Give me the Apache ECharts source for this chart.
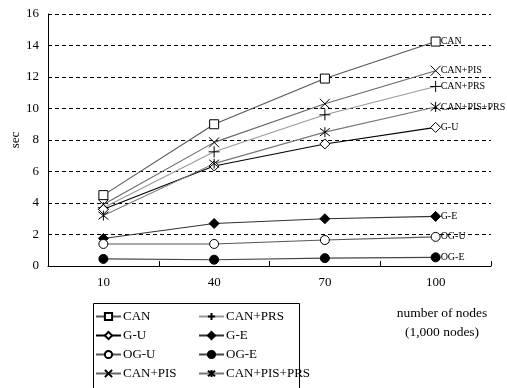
<!DOCTYPE html>
<html><head><meta charset="utf-8">
<script src="https://cdn.jsdelivr.net/npm/echarts@6/dist/echarts.min.js"></script>
<style>html,body{margin:0;padding:0;background:#fff}#c{width:507px;height:388px}</style>
</head><body><div id="c"></div>
<script>
var categories = ['10', '40', '70', '100'];
var yTicks = [0, 2, 4, 6, 8, 10, 12, 14, 16];
var seriesNames = ['CAN', 'CAN+PRS', 'G-U', 'G-E', 'OG-U', 'OG-E', 'CAN+PIS', 'CAN+PIS+PRS'];
var CAN = [4.5, 9.0, 11.9, 14.25];
var CAN_PRS = [3.7, 7.25, 9.6, 11.4];
var G_U = [3.6, 6.35, 7.75, 8.8];
var G_E = [1.75, 2.7, 3.0, 3.15];
var OG_U = [1.4, 1.4, 1.65, 1.85];
var OG_E = [0.45, 0.4, 0.5, 0.55];
var CAN_PIS = [3.9, 7.85, 10.3, 12.4];
var CAN_PIS_PRS = [3.2, 6.5, 8.5, 10.1];
var values = [CAN, CAN_PRS, G_U, G_E, OG_U, OG_E, CAN_PIS, CAN_PIS_PRS];

var FONT = 'Liberation Serif';
var styles = {
  'CAN': {sym: 'rect', size: 9, fill: '#fff', line: '#555'},
  'CAN+PRS': {sym: 'path://M5,0 L5,10 M0,5 L10,5', size: 11, fill: 'none', line: '#999'},
  'G-U': {sym: 'diamond', size: 10, fill: '#fff', line: '#000'},
  'G-E': {sym: 'diamond', size: 10, fill: '#000', line: '#333'},
  'OG-U': {sym: 'circle', size: 9, fill: '#fff', line: '#555'},
  'OG-E': {sym: 'circle', size: 9, fill: '#000', line: '#444'},
  'CAN+PIS': {sym: 'path://M0,0 L10,10 M10,0 L0,10', size: 10, fill: 'none', line: '#666'},
  'CAN+PIS+PRS': {sym: 'path://M0,0 L10,10 M10,0 L0,10 M5,-1.5 L5,11.5', size: 10, fill: 'none', line: '#777'}
};

var series = seriesNames.map(function (n, i) {
  var s = styles[n];
  return {
    name: n, type: 'line', data: values[i],
    symbol: s.sym, symbolSize: s.size, showAllSymbol: true,
    lineStyle: {color: s.line, width: 1.1},
    itemStyle: {color: s.fill, borderColor: '#000', borderWidth: 1},
    z: 3,
    endLabel: {show: true, formatter: '{a}', color: '#000', fontFamily: FONT, fontSize: 10, distance: 5},
    emphasis: {disabled: true}
  };
});

var chart = echarts.init(document.getElementById('c'), null, {renderer: 'canvas'});
var legendCommon = {
  orient: 'vertical', itemWidth: 25, itemHeight: 9, itemGap: 6,
  textStyle: {fontFamily: FONT, fontSize: 13, color: '#000', padding: [0, 0, 0, -3]},
  selectedMode: false, padding: 0
};
chart.setOption({
  animation: false,
  grid: {left: 48, right: 16, top: 14, bottom: 122, containLabel: false, outerBoundsMode: 'none'},
  xAxis: {
    type: 'category', data: categories, boundaryGap: true,
    axisLine: {lineStyle: {color: '#000', width: 1}},
    axisTick: {show: true, inside: true, length: 5, lineStyle: {color: '#000'}},
    axisLabel: {color: '#000', fontFamily: FONT, fontSize: 13, margin: 10}
  },
  yAxis: {
    type: 'value', min: yTicks[0], max: yTicks[yTicks.length - 1], interval: 2,
    name: 'sec', nameLocation: 'middle', nameGap: 26, nameRotate: 90, nameMoveOverlap: false,
    nameTextStyle: {color: '#000', fontFamily: FONT, fontSize: 13},
    axisLine: {show: true, lineStyle: {color: '#000', width: 1}},
    axisTick: {show: false},
    axisLabel: {color: '#000', fontFamily: FONT, fontSize: 13, margin: 9},
    splitLine: {show: true, lineStyle: {color: '#000', type: [4, 3], width: 1}}
  },
  legend: [
    Object.assign({left: 95, top: 310, data: ['CAN', 'G-U', 'OG-U', 'CAN+PIS']}, legendCommon),
    Object.assign({left: 198, top: 310, data: ['CAN+PRS', 'G-E', 'OG-E', 'CAN+PIS+PRS']}, legendCommon)
  ],
  graphic: [
    {type: 'rect', shape: {x: 93.5, y: 303.5, width: 206, height: 100}, style: {fill: 'none', stroke: '#000', lineWidth: 1}},
    {type: 'text', x: 442, y: 306, style: {text: 'number of nodes', font: '13.5px "Liberation Serif"', fill: '#000', align: 'center'}},
    {type: 'text', x: 442, y: 325, style: {text: '(1,000 nodes)', font: '13.5px "Liberation Serif"', fill: '#000', align: 'center'}}
  ],
  series: series
});
</script></body></html>
